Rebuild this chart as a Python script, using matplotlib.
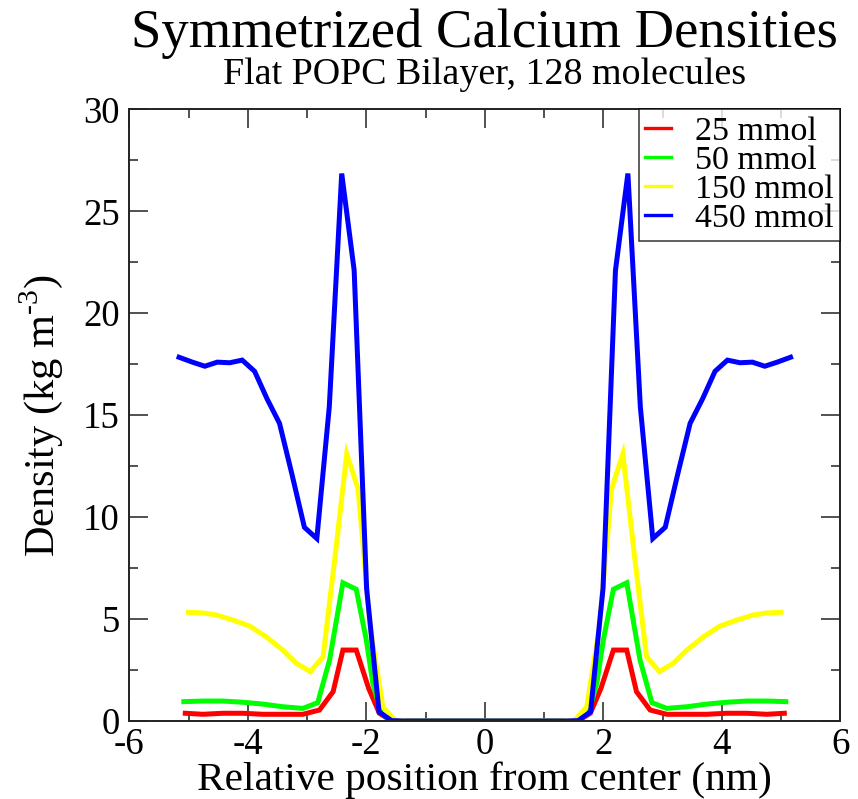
import numpy as np
import matplotlib.pyplot as plt

# symmetrized profiles: only the x > 0 half is listed, the other half is mirrored
x_25 = [0.1, 0.5, 1.0, 1.4, 1.6, 1.78, 1.96, 2.17, 2.395, 2.56, 2.79, 3.07, 3.41, 3.745, 4.08, 4.42, 4.76, 5.055]
d_25 = [0.0, 0.0, 0.0, 0.0, 0.05, 0.38, 1.6, 3.48, 3.48, 1.44, 0.54, 0.33, 0.33, 0.33, 0.38, 0.38, 0.33, 0.38]

x_50 = [0.1, 0.5, 1.0, 1.4, 1.6, 1.75, 1.89, 2.0, 2.17, 2.395, 2.62, 2.82, 3.07, 3.41, 3.745, 4.08, 4.42, 4.76, 5.08]
d_50 = [0.0, 0.0, 0.0, 0.0, 0.05, 0.38, 1.85, 3.97, 6.46, 6.78, 2.99, 0.90, 0.62, 0.70, 0.83, 0.92, 0.98, 0.98, 0.95]

x_150 = [0.1, 0.5, 1.0, 1.3, 1.52, 1.72, 1.93, 2.14, 2.33, 2.53, 2.73, 2.945, 3.18, 3.41, 3.69, 3.97, 4.25, 4.53, 4.76, 5.0]
d_150 = [0.0, 0.0, 0.0, 0.0, 0.05, 0.7, 4.5, 11.4, 13.1, 8.0, 3.15, 2.42, 2.83, 3.48, 4.13, 4.66, 4.95, 5.2, 5.3, 5.33]

x_450 = [0.105, 0.315, 0.525, 0.735, 0.945, 1.155, 1.365, 1.575, 1.785, 1.995, 2.205, 2.415, 2.625,
         2.835, 3.045, 3.255, 3.465, 3.675, 3.885, 4.095, 4.305, 4.515, 4.725, 4.935, 5.16]
d_450 = [0.0, 0.0, 0.0, 0.0, 0.0, 0.0, 0.0, 0.02, 0.45, 6.5, 22.1, 26.85, 15.4,
         8.95, 9.5, 12.1, 14.6, 15.8, 17.15, 17.7, 17.57, 17.6, 17.4, 17.6, 17.84]

labels = ['25 mmol', '50 mmol', '150 mmol', '450 mmol']
colors = ['#ff0000', '#00ff00', '#ffff00', '#0000ff']


def mirror(x, y):
    x = np.asarray(x)
    y = np.asarray(y)
    return np.concatenate([-x[::-1], x]), np.concatenate([y[::-1], y])


plt.rcParams['font.family'] = 'Liberation Serif'
plt.rcParams['mathtext.fontset'] = 'custom'
plt.rcParams['mathtext.rm'] = 'Liberation Serif'
plt.rcParams['axes.unicode_minus'] = False

fig = plt.figure(figsize=(8.58, 7.99), dpi=100)
ax = fig.add_axes([0.1507, 0.0976, 0.8287, 0.7656])

for xs, ys, lab, c in zip([x_25, x_50, x_150, x_450], [d_25, d_50, d_150, d_450], labels, colors):
    xx, yy = mirror(xs, ys)
    ax.plot(xx, yy, color=c, lw=3.6, label=lab, solid_joinstyle='miter')

ax.set_xlim(-6, 6)
ax.set_ylim(0, 30)
ax.set_xticks([-6, -4, -2, 0, 2, 4, 6])
ax.set_xticks([-5, -3, -1, 1, 3, 5], minor=True)
ax.set_yticks([0, 5, 10, 15, 20, 25, 30])
ax.set_yticks([2.5, 7.5, 12.5, 17.5, 22.5, 27.5], minor=True)
ax.tick_params(which='both', direction='in', top=True, right=True, width=1.1, color='#222222')
ax.tick_params(which='major', length=13.7, labelsize=26.5)
ax.tick_params(axis='x', which='major', pad=5)
ax.tick_params(axis='y', which='major', pad=7)
ax.tick_params(which='minor', length=6.8)
for s in ax.spines.values():
    s.set_linewidth(1.4)
    s.set_color('#222222')

ax.set_xlabel('Relative position from center (nm)', fontsize=29.8)
ax.set_ylabel('Density (kg m$^{\\text{-3}}$)', fontsize=30.5)
ax.xaxis.set_label_coords(0.5, -0.066)
ax.yaxis.set_label_coords(-0.09, 0.5)

leg = ax.legend(loc='upper right', fontsize=24.5, frameon=True, fancybox=False,
                borderaxespad=0, borderpad=0.2, labelspacing=-0.05,
                handlelength=0.75, handletextpad=0.7)
leg.get_frame().set_edgecolor('black')
leg.get_frame().set_linewidth(1.1)
for h in leg.legend_handles:
    h.set_linewidth(2.4)

fig.text(0.5649, 1 - 47 / 799, 'Symmetrized Calcium Densities', ha='center', va='baseline', fontsize=39.3)
fig.text(0.5649, 1 - 84 / 799, 'Flat POPC Bilayer, 128 molecules', ha='center', va='baseline', fontsize=27.4)

fig.savefig('out.png', dpi=100)
